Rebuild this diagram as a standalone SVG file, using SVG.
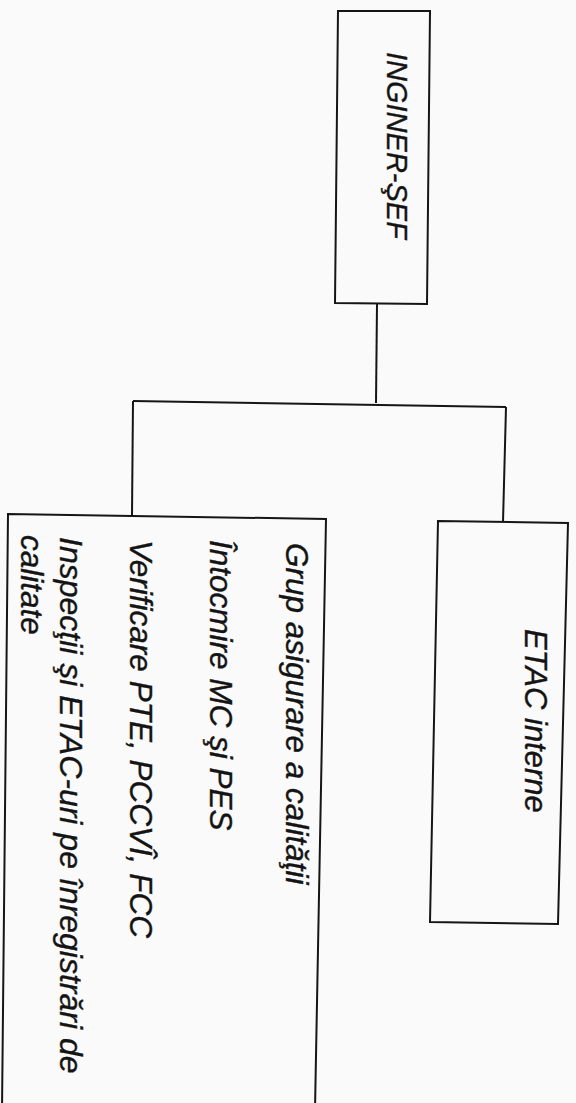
<svg xmlns="http://www.w3.org/2000/svg" width="576" height="1103" viewBox="0 0 576 1103">
<style>
.box{fill:none;stroke:#151515;stroke-width:2}
.con{fill:none;stroke:#151515;stroke-width:2}
.t{font-family:"Liberation Sans",Arial,sans-serif;font-style:italic;fill:#141414;stroke:#141414;stroke-width:0.35}
</style>
<rect x="0" y="0" width="576" height="1103" fill="#fafafa"/>
<g id="connectors">
<path class="con" d="M377,304 L376,403"/>
<path class="con" d="M133,401 L506,407"/>
<path class="con" d="M133,401 L132,515"/>
<path class="con" d="M506,407 L503,522"/>
</g>
<g id="inginer-sef">
<path class="box" d="M338,11 L430,11 L427,304 L335,303 Z"/>
<text class="t" font-size="29" transform="translate(387,52) rotate(90)">INGINER-ŞEF</text>
</g>
<g id="grup-asigurare">
<path class="box" d="M8,514 L326,519 L315,1110 L2,1110 Z"/>
<text class="t" font-size="31.5" transform="translate(286,543) rotate(90)">Grup asigurare a calităţii</text>
<text class="t" font-size="31.5" transform="translate(210,540) rotate(90)">Întocmire MC şi PES</text>
<text class="t" font-size="31.5" transform="translate(130,540) rotate(90)">Verificare PTE, PCCVÎ, FCC</text>
<text class="t" font-size="32" transform="translate(60,537) rotate(90)">Inspecţii şi ETAC-uri pe înregistrări de</text>
<text class="t" font-size="31.5" transform="translate(21,535) rotate(90)">calitate</text>
</g>
<g id="etac-interne">
<path class="box" d="M438,521 L568,523 L558,924 L430,922 Z"/>
<text class="t" font-size="31" transform="translate(525,629) rotate(90)">ETAC interne</text>
</g>
</svg>
